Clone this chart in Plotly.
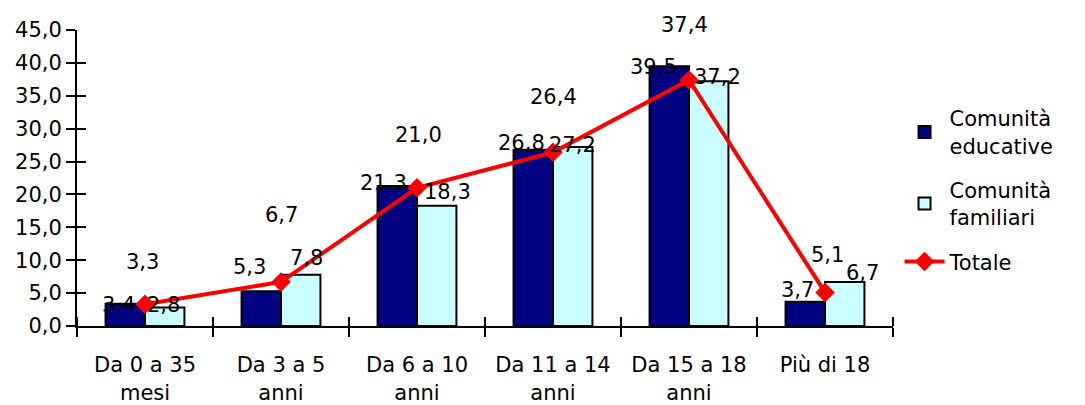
import plotly.graph_objects as go

categories = ["Da 0 a 35", "Da 3 a 5", "Da 6 a 10", "Da 11 a 14", "Da 15 a 18", "Più di 18"]
categories_line2 = ["mesi", "anni", "anni", "anni", "anni", ""]
educative = [3.4, 5.3, 21.3, 26.8, 39.5, 3.7]
familiari = [2.8, 7.8, 18.3, 27.2, 37.2, 6.7]
totale = [3.3, 6.7, 21.0, 26.4, 37.4, 5.1]

# label offsets in pixels (dx, dy) relative to category centre / value
edu_dx = [-27, -32, -34, -32, -36, -28]
edu_dy = [-1, 24, 3, 7, -1, 12]
fam_dx = [18, 25, 30, 19, 28, 37]
fam_dy = [3, 17, 14, 2, 4, 9]
tot_dx = [-3, 0, 1, 0, -5, 2]
tot_dy = [42, 67, 53, 55, 55, 37]

FONT = "DejaVu Sans"
FS = 21

def fmt(v):
    return f"{v:.1f}".replace(".", ",")

fig = go.Figure()
fig.add_trace(go.Bar(x=categories, y=educative, name="Comunità<br>educative", legendgroup="a",
                     marker=dict(color="#000080", line=dict(color="black", width=2))))
fig.add_trace(go.Bar(x=categories, y=familiari, name="Comunità<br>familiari", legendgroup="b",
                     marker=dict(color="#CCFFFF", line=dict(color="black", width=2))))
fig.add_trace(go.Scatter(x=categories, y=totale, name="Totale", mode="lines+markers", legendgroup="c",
                         line=dict(color="#FF0000", width=4),
                         marker=dict(symbol="diamond", size=15, color="#FF0000")))
# helper trace to render overlay axes (inside ticks, second label line)
fig.add_trace(go.Scatter(x=[0], y=[0], xaxis="x2", yaxis="y2", mode="markers",
                         marker=dict(opacity=0), showlegend=False, hoverinfo="skip"))

ann = []
for i, c in enumerate(categories):
    for vals, dx, dy in ((educative, edu_dx, edu_dy), (familiari, fam_dx, fam_dy), (totale, tot_dx, tot_dy)):
        ann.append(dict(x=c, y=vals[i], xref="x", yref="y", text=fmt(vals[i]), showarrow=False,
                        xshift=dx[i], yshift=dy[i], font=dict(family=FONT, size=FS, color="black")))

# page body has an 8px margin: figure is sized/offset to compensate
fig.update_layout(
    width=1077, height=397,
    margin=dict(l=69, r=192, t=22, b=79, autoexpand=False),
    paper_bgcolor="white", plot_bgcolor="white",
    separators=",.",
    font=dict(family=FONT, size=FS, color="black"),
    barmode="group", bargap=0.42, bargroupgap=0,
    showlegend=True,
    legend=dict(x=1.008, y=0.77, xanchor="left", yanchor="top",
                font=dict(family=FONT, size=FS, color="black"),
                bgcolor="rgba(0,0,0,0)", itemwidth=40, traceorder="grouped",
                tracegroupgap=14),
    xaxis=dict(type="category", tickson="boundaries", ticks="outside", ticklen=9,
               tickwidth=2, tickcolor="black", showline=True, linecolor="black", linewidth=2,
               showgrid=False, ticklabelstandoff=19, range=[-0.5, 5.5], automargin=False,
               tickfont=dict(family=FONT, size=FS, color="black")),
    yaxis=dict(range=[0, 45], dtick=5, tickformat=".1f", ticks="outside", ticklen=9,
               tickwidth=2, tickcolor="black", showline=True, linecolor="black", linewidth=2,
               showgrid=False, zeroline=False, automargin=False,
               tickfont=dict(family=FONT, size=FS, color="black")),
    xaxis2=dict(overlaying="x", side="bottom", range=[-0.5, 5.5], tickmode="array",
                tickvals=list(range(len(categories))), ticktext=categories_line2,
                ticks="", showline=False, showgrid=False, zeroline=False,
                ticklabelstandoff=52, automargin=False,
                minor=dict(ticks="inside", ticklen=9, tickwidth=2, tickcolor="black",
                           tick0=-0.5, dtick=1, showgrid=False),
                tickfont=dict(family=FONT, size=FS, color="black")),
    yaxis2=dict(overlaying="y", side="left", range=[0, 45], dtick=5, ticks="inside",
                ticklen=9, tickwidth=2, tickcolor="black", showticklabels=False,
                showline=False, showgrid=False, zeroline=False, automargin=False),
    annotations=ann,
)

fig.write_html("out.html")
